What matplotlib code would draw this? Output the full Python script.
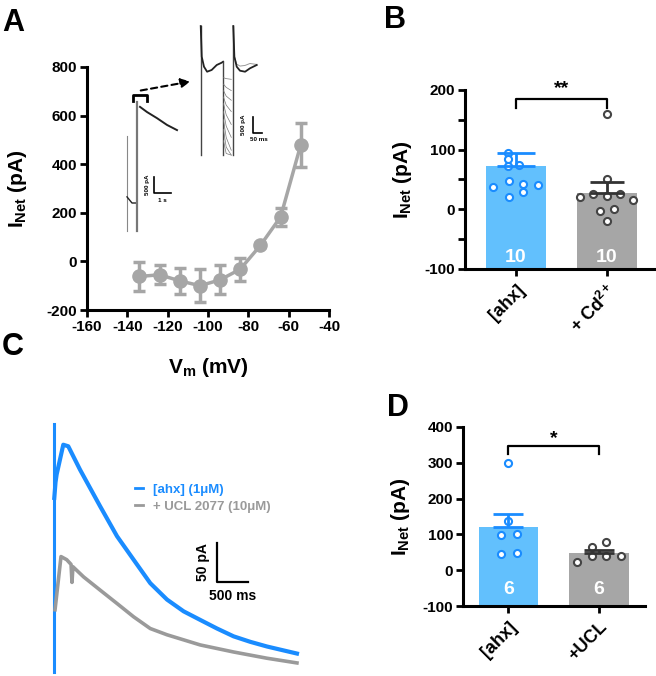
import matplotlib
matplotlib.use("Agg")
import matplotlib.pyplot as plt
from matplotlib.lines import Line2D

plt.rcParams['font.family'] = ['Liberation Sans', 'DejaVu Sans']
plt.rcParams['font.weight'] = 'bold'
plt.rcParams['axes.unicode_minus'] = False
plt.rcParams['mathtext.fontset'] = 'custom'
plt.rcParams['mathtext.rm'] = 'Liberation Sans:bold'
plt.rcParams['mathtext.it'] = 'Liberation Sans:bold'
plt.rcParams['mathtext.bf'] = 'Liberation Sans:bold'
plt.rcParams['mathtext.sf'] = 'Liberation Sans:bold'

# --- A: I-V relation
vm = [-134, -124, -114, -104, -94, -84, -74, -64, -54]
inet = [-62, -55, -80, -100, -76, -32, 66, 183, 480]
inet_sem = [60, 40, 53, 68, 60, 47, 8, 37, 90]

# inset 1 (s, pA)
art1_t = [0, 0]
art1_i = [2080, -870]
pre_t = [0, 0.3, 0.6]
pre_i = [190, 0, 0]
art2_t = [0.6, 0.6]
art2_i = [3130, -870]
decay_t = [0.78, 1.2, 1.8, 2.4, 3.0]
decay_i = [2980, 2820, 2630, 2420, 2260]

# inset 2 (ms, pA)
art3_t = [0, 0]
art3_i = [1300, -2700]
tail1_t = [0, 5.5, 18, 35, 60, 88, 115, 123]
tail1_i = [1300, 350, 40, -115, -62, 93, 164, 195]
step_t = [124, 124]
step_i = [190, -2700]
fam_t = [125, 140, 168]
fam_start = [-300, -500, -700, -900, -1100, -1350, -1600, -1900, -2250]
fam_mid = [-330, -600, -870, -1150, -1450, -1800, -2150, -2450, -2650]
fam_end = [-350, -700, -1000, -1350, -1750, -2150, -2550, -2700, -2700]
art4_t = [179, 179]
art4_i = [1300, -2700]
tail2_t = [179, 185, 198, 216, 244, 271, 308]
tail2_i = [1300, 350, 40, -84, -115, -9, 93]
tail2b_i = [1300, 350, 120, 60, 80, 140, 110]

# --- B
cats_b = ['[ahx]', '+ Cd$^{2+}$']
mean_b = [73, 28]
sem_b = [22, 17]
n_b = ['10', '10']
pts_b_blue_x = [-0.09, -0.09, -0.09, 0.03, -0.25, -0.08, 0.08, 0.24, 0.08, -0.08]
pts_b_blue_y = [94, 84, 73, 74, 38, 47, 43, 40, 29, 20]
pts_b_gray_x = [-0.29, -0.15, 0.0, 0.14, 0.29, -0.08, 0.08, 0.0, 0.0, 0.0]
pts_b_gray_y = [21, 26, 23, 25, 15, -2, 0, -19, 50, 160]

# --- C traces (ms, pA)
stim_t = [0, 0]
stim_i = [-2, 314]
ahx_t = [0, 20, 38, 145, 225, 415, 740, 1010, 1277, 1545, 1815, 2082, 2350,
         2620, 2887, 3155, 3425, 3692, 3907]
ahx_i = [220, 240, 250, 288, 286, 256, 209, 171, 141, 111, 90, 75, 64, 53, 43,
         36, 30, 25, 21]
ucl_t = [12, 108, 200, 270, 285, 300, 472, 740, 1010, 1277, 1545, 1815, 2350,
         2887, 3425, 3907]
ucl_i = [77, 145, 141, 135, 112, 132, 119, 102, 85, 68, 53, 45, 32, 23, 15, 9]

# --- D
cats_d = ['[ahx]', '+UCL']
mean_d = [120, 48]
sem_d = [38, 9]
n_d = ['6', '6']
pts_d_blue_x = [0.0, 0.0, -0.08, 0.09, -0.08, 0.09]
pts_d_blue_y = [300, 137, 97, 102, 44, 48]
pts_d_gray_x = [-0.24, -0.08, 0.08, -0.08, 0.08, 0.24]
pts_d_gray_y = [23, 65, 79, 40, 40, 40]

BLUE = '#1a8cff'
BAR_BLUE = '#62c0fd'
GRAY = '#a6a6a6'
TRACE_GRAY = '#9a9a9a'

W, H = 656, 676
fig = plt.figure(figsize=(W / 100, H / 100), dpi=100)


def px_rect(l, t, r, b):
    return [l / W, 1 - b / H, (r - l) / W, (b - t) / H]


def style_axis(ax):
    for s in ['top', 'right']:
        ax.spines[s].set_visible(False)
    for s in ['left', 'bottom']:
        ax.spines[s].set_linewidth(2.2)
    ax.tick_params(direction='out', length=5, width=2, labelsize=11, pad=2)
    for lab in ax.get_xticklabels() + ax.get_yticklabels():
        lab.set_fontweight('bold')


# ---------------- A
axA = fig.add_axes(px_rect(87, 67, 329, 310))
axA.errorbar(vm, inet, yerr=inet_sem, color=GRAY, lw=2.5, marker='o', ms=9.5,
             capsize=4, capthick=2.5, elinewidth=2.5)
axA.set_xlim(-160, -40)
axA.set_ylim(-200, 800)
axA.set_xticks(range(-160, -39, 20))
axA.set_yticks(range(-200, 801, 200))
style_axis(axA)
axA.set_ylabel('I$_{\\mathrm{Net}}$ (pA)', fontsize=15, fontweight='bold')
axA.yaxis.set_label_coords(-0.24, 0.5)
axA.set_xlabel('V$_{\\mathrm{m}}$ (mV)', fontsize=15, fontweight='bold')
axA.xaxis.set_label_coords(0.5, -0.19)

ins1 = fig.add_axes(px_rect(120, 88, 182, 236))
ins1.axis('off')
ins1.set_xlim(-0.42, 3.3)
ins1.set_ylim(-1023, 3565)
ins1.plot(art1_t, art1_i, color='#888888', lw=0.8)
ins1.plot(pre_t, pre_i, color='#222222', lw=1.0)
ins1.plot(art2_t, art2_i, color='#777777', lw=1.6)
ins1.plot(decay_t, decay_i, color='#222222', lw=1.4)
ins1.plot([0.36, 0.36, 1.2, 1.2], [3150, 3348, 3348, 3150], color='k', lw=2,
          clip_on=False)
ins1.plot([1.62, 1.62, 2.64], [806, 310, 310], color='k', lw=1.2)
ins1.text(1.2, 558, '500 pA', rotation=90, fontsize=4.5, ha='center', va='center')
ins1.text(2.13, 150, '1 s', fontsize=4.5, ha='center', va='top')

ins2 = fig.add_axes(px_rect(192, 20, 268, 160))
ins2.axis('off')
ins2.set_xlim(-48, 370)
ins2.set_ylim(-2852, 1488)
ins2.plot(art3_t, art3_i, color='#444444', lw=1.0)
ins2.plot(tail1_t, tail1_i, color='#222222', lw=1.3)
ins2.plot(step_t, step_i, color='#444444', lw=1.0)
for a, m, e in zip(fam_start, fam_mid, fam_end):
    ins2.plot(fam_t, [a, m, e], color='#777777', lw=0.5)
ins2.plot(art4_t, art4_i, color='#444444', lw=1.0)
ins2.plot(tail2_t, tail2b_i, color='#999999', lw=0.7)
ins2.plot(tail2_t, tail2_i, color='#222222', lw=1.3)
ins2.plot([288, 288, 338], [-1519, -2015, -2015], color='k', lw=1.2)
ins2.text(235, -1770, '500 pA', rotation=90, fontsize=4.5, ha='center', va='center')
ins2.text(318, -2150, '50 ms', fontsize=4.5, ha='center', va='top')
ins2.annotate('', xy=(-42, -403), xycoords='data',
              xytext=(0.66, 3472), textcoords=ins1.transData,
              arrowprops=dict(arrowstyle='-|>', linestyle=(0, (3, 2)), lw=1.5,
                              color='k', mutation_scale=14),
              annotation_clip=False)


def bar_panel(ax, cats, means, sems, ns, bx, by, gx, gy, ylim, yticks,
              minor, xlim, caps, n_y, sig_y, sig_drop, stars, star_y):
    base = ylim[0]
    ax.bar([0, 1], [m - base for m in means], bottom=base, width=0.66,
           color=[BAR_BLUE, GRAY], zorder=1)
    ax.scatter(bx, by, s=26, facecolor='white', edgecolor=BLUE, lw=1.5, zorder=3)
    ax.scatter([1 + v for v in gx], gy, s=26, facecolor='white',
               edgecolor='#444444', lw=1.5, zorder=3)
    ax.errorbar([0], [means[0]], yerr=[[0], [sems[0]]], color=BLUE, lw=2,
                capsize=caps[0], capthick=2, fmt='none', zorder=4)
    ax.errorbar([1], [means[1]], yerr=[[0], [sems[1]]], color='#333333', lw=2,
                capsize=caps[1], capthick=2, fmt='none', zorder=4)
    for i, n in enumerate(ns):
        ax.text(i, n_y, n, color='white', fontsize=14, fontweight='bold',
                ha='center', va='center', zorder=5)
    ax.plot([0, 0, 1, 1], [sig_y - sig_drop, sig_y, sig_y, sig_y - sig_drop],
            color='k', lw=1.6, clip_on=False)
    ax.text(0.5, star_y, stars, fontsize=14, fontweight='bold', ha='center',
            va='bottom')
    ax.set_xlim(*xlim)
    ax.set_ylim(*ylim)
    ax.set_yticks(yticks)
    if minor:
        ax.set_yticks(minor, minor=True)
    ax.set_xticks([0, 1])
    ax.set_xticklabels(cats, rotation=45, ha='right', rotation_mode='anchor',
                       fontsize=13, fontweight='bold')
    style_axis(ax)
    ax.tick_params(axis='x', labelsize=13, pad=4)
    ax.tick_params(which='minor', length=5, width=2)
    ax.set_ylabel('I$_{\\mathrm{Net}}$ (pA)', fontsize=15, fontweight='bold')


# ---------------- B
axB = fig.add_axes(px_rect(465, 90, 655, 269))
bar_panel(axB, cats_b, mean_b, sem_b, n_b, pts_b_blue_x, pts_b_blue_y,
          pts_b_gray_x, pts_b_gray_y, (-100, 200), [-100, 0, 100, 200],
          [-50, 50, 150], (-0.56, 1.53), (14, 12), -80, 185, 15, '**', 188)
axB.yaxis.set_label_coords(-0.27, 0.5)

# ---------------- D
axD = fig.add_axes(px_rect(463, 427, 645, 606))
bar_panel(axD, cats_d, mean_d, sem_d, n_d, pts_d_blue_x, pts_d_blue_y,
          pts_d_gray_x, pts_d_gray_y, (-100, 400), [-100, 0, 100, 200, 300, 400],
          None, (-0.503, 1.51), (11, 11), -55, 347, 22, '*', 345)
axD.yaxis.set_label_coords(-0.28, 0.5)

# ---------------- C
axC = fig.add_axes(px_rect(40, 415, 310, 676))
axC.axis('off')
axC.set_xlim(-230, 4117)
axC.set_ylim(-7.7, 326)
axC.plot(stim_t, stim_i, color=BLUE, lw=2.2)
l1, = axC.plot(ahx_t, ahx_i, color=BLUE, lw=3)
l2, = axC.plot(ucl_t, ucl_i, color=TRACE_GRAY, lw=2.6)
axC.plot([2620, 2620, 3120], [162.6, 112.6, 112.6], color='k', lw=1.6)
axC.text(2400, 138, '50 pA', rotation=90, fontsize=10, fontweight='bold',
         ha='center', va='center')
axC.text(2870, 103, '500 ms', fontsize=10, fontweight='bold', ha='center',
         va='top')
axC.legend([Line2D([], [], color=BLUE, lw=2), Line2D([], [], color=TRACE_GRAY, lw=2)],
           ['[ahx] (1\u03bcM)', '+ UCL 2077 (10\u03bcM)'], loc='upper left',
           bbox_to_anchor=(128 / W, 1 - 477 / H), bbox_transform=fig.transFigure,
           frameon=False, handlelength=0.6, handletextpad=0.8, labelspacing=0.35,
           borderpad=0, labelcolor='linecolor',
           prop={'weight': 'bold', 'size': 9.5})

# panel letters
for x, y, s in [(2, 8, 'A'), (384, 5, 'B'), (2, 332, 'C'), (387, 393, 'D')]:
    fig.text(x / W, 1 - y / H, s, fontsize=22, fontweight='bold', va='top',
             ha='left')

fig.savefig('out.png', dpi=100)
